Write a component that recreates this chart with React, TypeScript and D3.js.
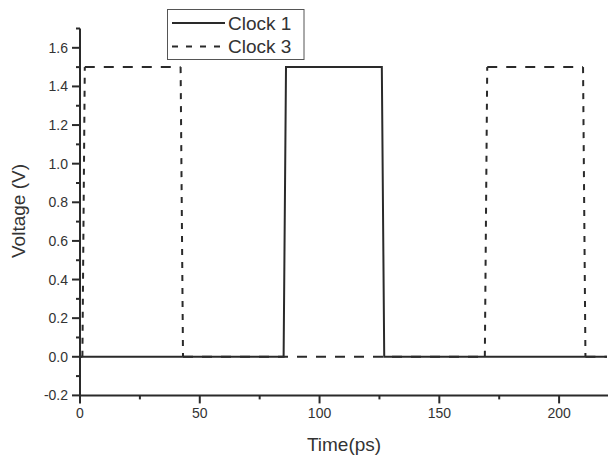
import React from "react";
import * as d3 from "d3";

const clock1X = [0, 85, 86, 126, 127, 220];
const clock1Y = [0, 0, 1.5, 1.5, 0, 0];
const clock3X = [0, 1, 2, 42, 43, 169, 170, 210, 211, 220];
const clock3Y = [0, 0, 1.5, 1.5, 0, 0, 1.5, 1.5, 0, 0];
const xMajor = [0, 50, 100, 150, 200];
const xMinor = [25, 75, 125, 175];
const yMajor = [-0.2, 0, 0.2, 0.4, 0.6, 0.8, 1.0, 1.2, 1.4, 1.6];
const yMinor = [-0.1, 0.1, 0.3, 0.5, 0.7, 0.9, 1.1, 1.3, 1.5, 1.7];
const seriesNames = ["Clock 1", "Clock 3"];

const W = 608, H = 455;
const FONT = "'Liberation Sans', Arial, sans-serif";
const INK = "#2a2a2a";

export default function App() {
  const x = d3.scaleLinear().domain([0, 220]).range([80, 607]);
  const y = d3.scaleLinear().domain([-0.2, 1.7]).range([395.4, 28.5]);
  const line = d3.line<[number, number]>().x(d => x(d[0])).y(d => y(d[1]));
  const c1 = clock1X.map((v, i) => [v, clock1Y[i]] as [number, number]);
  const c3 = clock3X.map((v, i) => [v, clock3Y[i]] as [number, number]);
  const segs3 = c3.slice(1).map((p, i) => [c3[i], p] as [number, number][]);

  return (
    <svg width={W} height={H} style={{ position: "absolute", left: 0, top: 0, background: "#fff" }}
      fontFamily={FONT}>
      {/* Clock 3 (dashed) */}
      {segs3.map((s, i) => {
        const dx = Math.abs(x(s[1][0]) - x(s[0][0]));
        const dy = Math.abs(y(s[1][1]) - y(s[0][1]));
        const vertical = dy > dx;
        return (
          <path key={"c3" + i} d={line(s) || ""} fill="none" stroke={INK} strokeWidth={2}
            strokeDasharray={vertical ? "6,7" : "10,9"} />
        );
      })}
      {/* Clock 1 (solid) */}
      <path d={line(c1) || ""} fill="none" stroke={INK} strokeWidth={2} strokeLinejoin="miter" />

      {/* axes */}
      <line x1={x(0)} x2={x(0)} y1={y(-0.2) + 1} y2={y(1.7)} stroke={INK} strokeWidth={2} />
      <line x1={x(0) - 1} x2={W} y1={y(-0.2)} y2={y(-0.2)} stroke={INK} strokeWidth={2} />
      {yMajor.map(v => (
        <g key={"ym" + v}>
          <line x1={x(0) - 8} x2={x(0)} y1={y(v)} y2={y(v)} stroke={INK} strokeWidth={2} />
          <text x={x(0) - 12} y={y(v)} dy="0.36em" textAnchor="end" fontSize={14} fill="#333">
            {v.toFixed(1)}
          </text>
        </g>
      ))}
      {yMinor.map(v => (
        <line key={"yn" + v} x1={x(0) - 4} x2={x(0)} y1={y(v)} y2={y(v)} stroke={INK} strokeWidth={2} />
      ))}
      {xMajor.map(v => (
        <g key={"xm" + v}>
          <line x1={x(v)} x2={x(v)} y1={y(-0.2)} y2={y(-0.2) + 8} stroke={INK} strokeWidth={2} />
          <text x={x(v)} y={418} textAnchor="middle" fontSize={14} fill="#333">{v}</text>
        </g>
      ))}
      {xMinor.map(v => (
        <line key={"xn" + v} x1={x(v)} x2={x(v)} y1={y(-0.2)} y2={y(-0.2) + 4} stroke={INK} strokeWidth={2} />
      ))}

      {/* axis titles */}
      <text x={344} y={451} textAnchor="middle" fontSize={19} fill="#333">Time(ps)</text>
      <text transform="translate(25,211) rotate(-90)" textAnchor="middle" fontSize={19} fill="#333">
        Voltage (V)
      </text>

      {/* legend */}
      <rect x={167.5} y={9.5} width={136.5} height={50} fill="#fff" stroke="#555" strokeWidth={1} />
      <line x1={172} x2={225} y1={23} y2={23} stroke={INK} strokeWidth={2} />
      <text x={228} y={29.5} fontSize={19} fill="#333">{seriesNames[0]}</text>
      <line x1={172} x2={225} y1={46.5} y2={46.5} stroke={INK} strokeWidth={2} strokeDasharray="6,8" />
      <text x={228} y={53} fontSize={19} fill="#333">{seriesNames[1]}</text>
    </svg>
  );
}
